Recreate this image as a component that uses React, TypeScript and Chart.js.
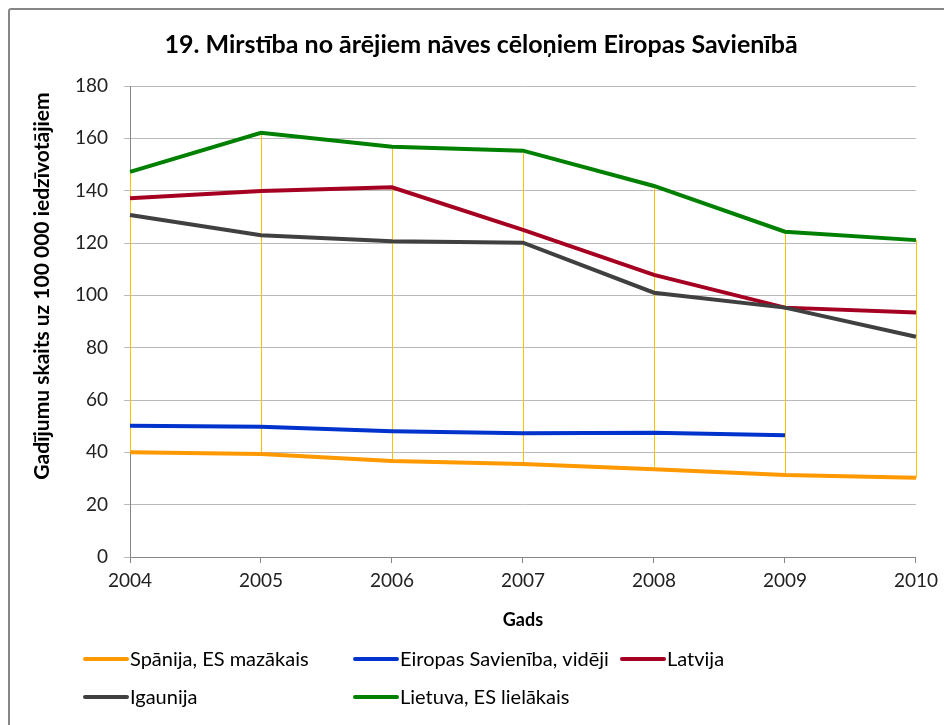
import React, { useEffect, useRef } from "react";
import { Chart, registerables } from "chart.js";

Chart.register(...registerables);

const years = ["2004", "2005", "2006", "2007", "2008", "2009", "2010"];
const spain = [40.0, 39.4, 36.7, 35.5, 33.5, 31.3, 30.3];
const euAverage = [50.2, 49.8, 48.1, 47.3, 47.5, 46.5, null];
const latvia = [137.1, 139.9, 141.3, 125.0, 107.8, 95.3, 93.4];
const estonia = [130.7, 123.0, 120.7, 120.1, 101.0, 95.3, 84.2];
const lithuania = [147.2, 162.1, 156.8, 155.3, 141.8, 124.3, 121.1];

const seriesLabels = [
  "Spānija, ES mazākais",
  "Eiropas Savienība, vidēji",
  "Latvija",
  "Igaunija",
  "Lietuva, ES lielākais",
];
const seriesColors = ["#FF9900", "#0033CC", "#A50021", "#404040", "#008000"];
const seriesData = [spain, euAverage, latvia, estonia, lithuania];

const chartTitle = "19. Mirstība no ārējiem nāves cēloņiem Eiropas Savienībā";
const yTitle = "Gadījumu skaits uz 100 000 iedzīvotājiem";
const xTitle = "Gads";

const FONT = "Lato, 'Open Sans', sans-serif";

const highLowPlugin = {
  id: "highLow",
  beforeDatasetsDraw(chart: any) {
    const { ctx, scales } = chart;
    const x = scales.x;
    const y = scales.y;
    ctx.save();
    ctx.strokeStyle = "#FFC000";
    ctx.lineWidth = 1;
    years.forEach((_, i) => {
      const vals = chart.data.datasets
        .map((d: any) => d.data[i])
        .filter((v: any) => v !== null && v !== undefined);
      if (vals.length < 2) return;
      const lo = Math.min(...vals);
      const hi = Math.max(...vals);
      const px = Math.round(x.getPixelForValue(i)) + 0.5;
      ctx.beginPath();
      ctx.moveTo(px, y.getPixelForValue(lo));
      ctx.lineTo(px, y.getPixelForValue(hi));
      ctx.stroke();
    });
    ctx.restore();
  },
};

const decorPlugin = {
  id: "decor",
  afterDraw(chart: any) {
    const { ctx, chartArea } = chart;
    ctx.save();
    ctx.fillStyle = "#000";
    // title
    ctx.font = `bold 25px ${FONT}`;
    ctx.textAlign = "center";
    ctx.textBaseline = "middle";
    ctx.fillText(chartTitle, 481, 45);
    // y title
    ctx.save();
    ctx.translate(42, chartArea.top + 200);
    ctx.rotate(-Math.PI / 2);
    ctx.font = `bold 21px ${FONT}`;
    ctx.fillText(yTitle, 0, 0);
    ctx.restore();
    // x title
    ctx.font = `bold 18px ${FONT}`;
    ctx.fillText(xTitle, (chartArea.left + chartArea.right) / 2, chartArea.bottom + 63);
    // legend
    const colX = [85, 355, 622];
    const rowY = [659, 697];
    ctx.font = `20px ${FONT}`;
    ctx.textAlign = "left";
    chart.data.datasets.forEach((ds: any, i: number) => {
      const cx = colX[i % 3];
      const cy = rowY[Math.floor(i / 3)];
      ctx.strokeStyle = ds.borderColor;
      ctx.lineWidth = 4;
      ctx.lineCap = "round";
      ctx.beginPath();
      ctx.moveTo(cx, cy);
      ctx.lineTo(cx + 42, cy);
      ctx.stroke();
      ctx.fillStyle = "#000";
      ctx.fillText(ds.label, cx + 45, cy + 1);
    });
    ctx.restore();
  },
};

export default function App() {
  const ref = useRef<HTMLCanvasElement | null>(null);

  useEffect(() => {
    if (!ref.current) return;
    const chart = new Chart(ref.current, {
      type: "line",
      data: {
        labels: years,
        datasets: seriesData.map((d, i) => ({
          label: seriesLabels[i],
          data: d,
          borderColor: seriesColors[i],
          backgroundColor: seriesColors[i],
          borderWidth: 4,
          pointRadius: 0,
          tension: 0,
          spanGaps: false,
          order: seriesData.length - i,
        })),
      },
      options: {
        animation: false,
        responsive: false,
        devicePixelRatio: 1,
        layout: { padding: { left: 0, top: 86, right: 26, bottom: 128 } },
        plugins: {
          legend: { display: false },
          title: { display: false },
          tooltip: { enabled: false },
        },
        scales: {
          x: {
            offset: false,
            grid: {
              drawOnChartArea: false,
              drawTicks: true,
              tickLength: 6,
              color: "#868686",
            },
            border: { color: "#868686", width: 1 },
            ticks: {
              font: { family: FONT, size: 19 },
              color: "#222",
              padding: 6,
              maxRotation: 0,
            },
            afterFit(scale: any) {
              scale.height = 40;
            },
          },
          y: {
            min: 0,
            max: 180,
            ticks: {
              stepSize: 20,
              font: { family: FONT, size: 19 },
              color: "#222",
              padding: 16,
            },
            grid: {
              color: "#BABABA",
              lineWidth: 1,
              tickLength: 6,
            },
            border: { color: "#868686", width: 1 },
            afterFit(scale: any) {
              scale.width = 130;
            },
          },
        },
      },
      plugins: [highLowPlugin, decorPlugin],
    });
    return () => chart.destroy();
  }, []);

  return (
    <div
      style={{
        position: "fixed",
        left: 0,
        top: 0,
        width: 944,
        height: 725,
        overflow: "hidden",
        background: "#fff",
      }}
    >
      <div
        style={{
          position: "absolute",
          left: 8,
          top: 8,
          width: 1000,
          height: 800,
          border: "2px solid #868686",
          borderRadius: 3,
        }}
      />
      <canvas
        ref={ref}
        width={944}
        height={725}
        style={{ position: "absolute", left: 0, top: 0, width: 944, height: 725 }}
      />
    </div>
  );
}
